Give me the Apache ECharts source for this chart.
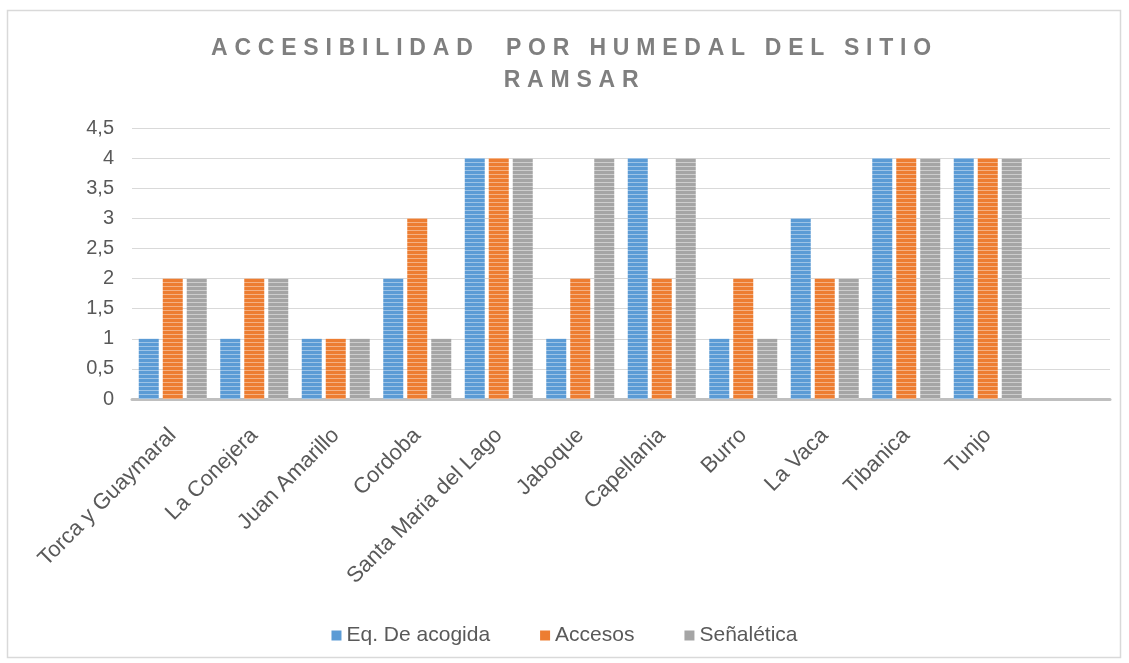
<!DOCTYPE html>
<html><head><meta charset="utf-8">
<script src="https://cdn.jsdelivr.net/npm/echarts@6/dist/echarts.min.js"></script>
<style>
html,body{margin:0;padding:0;background:#fff;}
#c{width:1129px;height:663px;position:absolute;left:0;top:0;}
#t{position:absolute;left:0;width:1149px;top:31px;text-align:center;font-family:"Liberation Sans",Arial,sans-serif;font-weight:bold;font-size:23px;letter-spacing:6.8px;color:#7f7f7f;line-height:32px;pointer-events:none;}
</style></head>
<body>
<div id="c"></div>
<div id="t">ACCESIBILIDAD&nbsp; POR HUMEDAL DEL SITIO<br>RAMSAR</div>
<script>
const categories = ["Torca y Guaymaral","La Conejera","Juan Amarillo","Cordoba","Santa Maria del Lago","Jaboque","Capellania","Burro","La Vaca","Tibanica","Tunjo",""];
const eqAcogida = [1,1,1,2,4,1,4,1,3,4,4,null];
const accesos   = [2,2,1,3,4,2,2,2,2,4,4,null];
const senaletica= [2,2,1,1,4,4,4,1,2,4,4,null];
const seriesNames = ["Eq. De acogida","Accesos","Señalética"];

function pat(base, light){
  const c=document.createElement('canvas'); c.width=4; c.height=4;
  const x=c.getContext('2d'); x.fillStyle=base; x.fillRect(0,0,4,4);
  x.fillStyle=light; x.fillRect(0,2,4,1);
  return {image:c, repeat:'repeat'};
}
const cols=[['#5B9BD5','#9DC3E6'],['#ED7D31','#F4B183'],['#A5A5A5','#CDCDCD']];
const font='"Liberation Sans", Arial, sans-serif';
const chart=echarts.init(document.getElementById('c'));
const datas=[eqAcogida,accesos,senaletica];
chart.setOption({
  animation:false,
  graphic:[{type:'rect',shape:{x:7.5,y:10.5,width:1113,height:647},style:{fill:'none',stroke:'#d9d9d9',lineWidth:1.5},silent:true}],
  grid:{left:132,right:19,top:128,bottom:264,containLabel:false},
  legend:{top:620,left:'center',itemWidth:10,itemHeight:10,itemGap:50,icon:'rect',
    textStyle:{fontFamily:font,fontSize:21,color:'#595959'},
    data:seriesNames.map((n,i)=>({name:n,itemStyle:{color:cols[i][0]}}))},
  xAxis:{type:'category',data:categories,
    axisLine:{lineStyle:{color:'#BFBFBF',width:3}},axisTick:{show:false},
    axisLabel:{interval:0,rotate:45,fontFamily:font,fontSize:22,color:'#595959',margin:33}},
  yAxis:{type:'value',min:0,max:4.5,interval:0.5,
    axisLine:{show:false},axisTick:{show:false},
    splitLine:{lineStyle:{color:'#D9D9D9',width:1}},
    axisLabel:{fontFamily:font,fontSize:20,color:'#595959',margin:18,
      formatter:v=>String(v).replace('.',',')}},
  series:datas.map((d,i)=>({name:seriesNames[i],type:'bar',data:d,barWidth:20,barGap:'20%',
    itemStyle:{color:pat(cols[i][0],cols[i][1])}}))
});
</script>
</body></html>
